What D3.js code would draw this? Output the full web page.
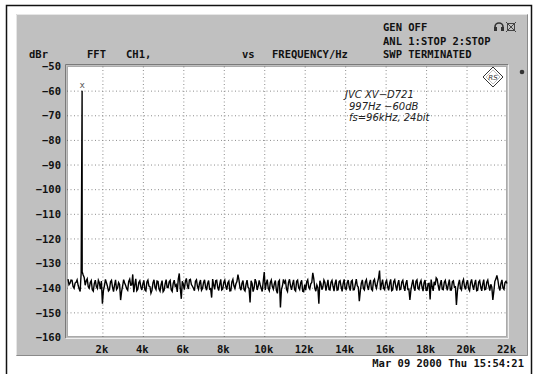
<!DOCTYPE html>
<html><head><meta charset="utf-8">
<script src="https://cdn.jsdelivr.net/npm/d3@7"></script>
<style>
html,body{margin:0;padding:0;background:#fff;}
svg{display:block;}
.mono{font-family:"DejaVu Sans Mono","Liberation Mono",monospace;font-weight:bold;font-size:10.5px;fill:#111;}
.note{font-family:"DejaVu Sans",sans-serif;font-style:italic;font-size:10px;fill:#222;}
</style></head><body>
<svg id="c" width="537" height="374"></svg>
<script>
// ---- data ----
const yTicks = [-50,-60,-70,-80,-90,-100,-110,-120,-130,-140,-150,-160];
const yTickLabels = ["−50","−60","−70","−80","−90","−100","−110","−120","−130","−140","−150","−160"];
const xTicks = [2000,4000,6000,8000,10000,12000,14000,16000,18000,20000,22000];
const xTickLabels = ["2k","4k","6k","8k","10k","12k","14k","16k","18k","20k","22k"];
// FFT display bins: levels at 300,400,...,22000 Hz
const noiseStartHz = 300, noiseStepHz = 100;
const noiseLevels = [
 -136.5,-138.2,-137.0,-140.2,-137.8,-139.0,-141.5,-133.5,
 -135.8,-137.2,-139.6,-137.9,-140.8,-138.3,-139.5,-137.0,-140.6,-146.5,
 -139.2,-138.0,-141.3,-137.6,-139.8,-138.9,-140.7,-137.9,-145.0,-139.3,
 -138.1,-140.4,-137.4,-139.0,-134.6,-138.8,-141.2,-137.9,-139.6,-138.4,
 -140.9,-137.7,-139.3,-142.2,-138.0,-139.8,-137.3,-140.5,-138.7,-141.6,
 -138.4,-139.9,-137.6,-140.8,-138.2,-139.4,-141.7,-134.2,-144.5,-138.6,
 -137.5,-139.1,-136.8,-138.7,-140.2,-137.4,-139.5,-138.1,-141.0,-137.9,
 -139.7,-138.3,-140.6,-144.0,-138.9,-137.2,-139.8,-138.5,-140.9,-137.8,
 -139.4,-138.0,-141.3,-137.6,-139.2,-138.4,-134.7,-139.9,-138.2,-140.7,
 -138.6,-139.8,-146.0,-138.3,-140.1,-137.7,-139.4,-138.8,-141.5,-133.6,
 -138.2,-140.3,-137.9,-139.5,-138.4,-141.1,-137.6,-148.0,-139.2,-138.0,
 -140.6,-137.8,-139.3,-138.5,-140.8,-137.4,-139.9,-138.1,-141.4,-138.7,
 -137.6,-139.8,-138.4,-134.0,-140.2,-138.9,-146.5,-138.3,-139.6,-137.9,
 -139.1,-140.7,-137.8,-139.4,-138.2,-141.0,-137.5,-139.6,-138.3,-140.4,
 -138.0,-139.7,-137.4,-140.9,-138.6,-139.2,-145.5,-138.1,-140.3,-137.6,
 -139.4,-138.2,-140.6,-137.3,-139.1,-137.8,-133.0,-138.5,-140.2,-137.9,
 -139.6,-138.1,-141.2,-137.5,-139.3,-138.4,-140.8,-137.7,-139.5,-138.2,
 -140.7,-145.0,-138.6,-139.8,-137.4,-140.3,-138.1,-139.7,-137.9,-141.0,
 -138.3,-144.8,-139.4,-137.6,-136.0,-139.2,-138.5,-140.6,-137.8,-139.3,
 -138.6,-140.9,-137.5,-139.8,-147.0,-138.4,-140.2,-137.6,-139.5,-138.1,
 -140.4,-137.9,-139.1,-138.3,-141.2,-137.7,-139.6,-138.5,-140.8,-137.8,
 -139.3,-138.6,-145.0,-137.4,-135.0,-139.7,-138.2,-140.1,-137.9,-138.3
];
// in-between bins: levels at 350,450,...,21950 Hz
const midStartHz = 350;
const noiseLevelsMid = [
 -138.8,-136.9,-139.5,-138.1,-136.8,-140.4,-134.0,
 -134.8,-139.0,-136.4,-140.2,-137.1,-141.4,-136.9,-140.3,-138.0,-137.3,
 -141.2,-136.6,-139.4,-140.8,-137.0,-141.6,-136.8,-140.1,-138.7,-141.5,
 -136.7,-139.1,-141.0,-136.5,-138.9,-141.8,-136.4,-140.6,-137.2,-140.9,
 -137.0,-141.3,-136.9,-139.6,-141.1,-136.8,-140.7,-137.5,-141.4,-137.1,
 -141.0,-136.7,-139.9,-137.0,-141.5,-136.9,-138.8,-136.5,-140.2,-137.4,
 -140.8,-136.2,-140.5,-136.6,-139.4,-141.2,-136.8,-140.6,-136.9,-140.3,
 -136.8,-141.0,-137.1,-140.4,-136.5,-140.7,-137.0,-141.1,-136.6,-140.5,
 -136.9,-140.8,-137.3,-141.2,-136.6,-140.3,-137.5,-136.8,-141.0,-137.1,
 -141.3,-136.9,-140.4,-137.2,-141.6,-136.5,-140.9,-137.0,-140.2,-137.4,
 -140.9,-136.7,-141.2,-136.9,-140.6,-137.1,-142.3,-137.0,-140.8,-136.6,
 -137.2,-141.5,-136.6,-140.9,-136.8,-141.3,-136.9,-140.7,-137.0,-141.6,
 -141.0,-136.8,-140.5,-137.9,-136.4,-141.4,-140.0,-137.2,-140.8,-136.9,
 -141.2,-136.8,-140.9,-137.0,-141.4,-136.7,-140.8,-137.1,-141.5,-136.6,
 -140.7,-136.9,-141.2,-137.0,-140.8,-136.5,-139.8,-141.3,-136.8,-140.9,
 -136.7,-140.9,-136.8,-141.1,-136.6,-140.2,-136.1,-141.0,-136.7,-140.8,
 -137.0,-141.1,-136.6,-140.9,-136.8,-141.2,-136.9,-140.6,-137.0,-141.3,
 -136.9,-140.6,-141.0,-136.7,-141.2,-136.8,-140.7,-137.1,-141.4,-136.9,
 -141.0,-138.2,-136.7,-141.3,-139.0,-136.6,-141.2,-136.9,-140.8,-137.0,
 -141.1,-136.7,-140.9,-137.2,-139.6,-141.3,-136.8,-140.9,-136.6,-140.7,
 -137.0,-141.2,-136.6,-140.9,-136.8,-141.0,-137.1,-141.3,-136.7,-140.6,
 -136.9,-141.2,-139.8,-141.4,-136.5,-136.9,-141.1,-136.8,-140.7,-137.4
];
const spikeFreqs = [997];
const spikeLevels = [-60];
const headerLeft = ["dBr","FFT","CH1,","vs","FREQUENCY/Hz"];
const statusLines = ["GEN OFF","ANL 1:STOP 2:STOP","SWP TERMINATED"];
const noteLines = ["JVC XV−D721","997Hz  −60dB","fs=96kHz, 24bit"];
const dateText = "Mar 09 2000 Thu 15:54:21";

// ---- layout ----
const svg = d3.select("#c");
const P = {l:67, t:66, r:507, b:337};
const x = d3.scaleLinear().domain([250,22000]).range([P.l,P.r]);
const y = d3.scaleLinear().domain([-50,-160]).range([P.t,P.b]);

svg.append("rect").attr("width",537).attr("height",374).attr("fill","#fff");
// outer frame
svg.append("rect").attr("x",6.5).attr("y",5.5).attr("width",525).attr("height",400)
  .attr("fill","none").attr("stroke","#111").attr("stroke-width",1.5);
// grey panel
svg.append("rect").attr("x",16).attr("y",14).attr("width",512).attr("height",342).attr("fill","#c0c0c0");
svg.append("path").attr("d","M16.5,355.5V14.5H527.5").attr("fill","none").attr("stroke","#e6e6e6");
svg.append("path").attr("d","M16.5,355.5H527.5V14.5").attr("fill","none").attr("stroke","#8a8a8a");
// plot area
svg.append("rect").attr("x",P.l).attr("y",P.t).attr("width",P.r-P.l).attr("height",P.b-P.t).attr("fill","#fff");
svg.append("path").attr("d",`M${P.l-1.5},${P.b+1.5}V${P.t-1.5}H${P.r+1.5}`).attr("fill","none").attr("stroke","#7a7a7a");
svg.append("path").attr("d",`M${P.l-1.5},${P.b+1.5}H${P.r+1.5}V${P.t-1.5}`).attr("fill","none").attr("stroke","#eeeeee");

// grid
const gx = svg.append("g").attr("transform",`translate(0,${P.b})`)
  .call(d3.axisBottom(x).tickValues(xTicks.slice(0,-1)).tickSize(-(P.b-P.t)).tickFormat(""));
gx.select(".domain").remove();
gx.selectAll("line").attr("stroke","#8c8c8c").attr("stroke-dasharray","1,2.5");
const gy = svg.append("g").attr("transform",`translate(${P.l},0)`)
  .call(d3.axisLeft(y).tickValues(yTicks.slice(1,-1)).tickSize(-(P.r-P.l)).tickFormat(""));
gy.select(".domain").remove();
gy.selectAll("line").attr("stroke","#8c8c8c").attr("stroke-dasharray","1,2.5");
// dotted plot border
svg.append("rect").attr("x",P.l+0.5).attr("y",P.t+0.5).attr("width",P.r-P.l-1).attr("height",P.b-P.t-1)
  .attr("fill","none").attr("stroke","#555").attr("stroke-dasharray","1,1");

// axes labels
const ax = svg.append("g").attr("transform",`translate(0,${P.b})`)
  .call(d3.axisBottom(x).tickValues(xTicks).tickSize(0).tickPadding(9)
  .tickFormat((d,i)=>xTickLabels[i]));
ax.select(".domain").remove();
ax.selectAll("text").attr("class","mono").attr("dx",-1);
const ay = svg.append("g").attr("transform",`translate(${P.l-6},0)`)
  .call(d3.axisLeft(y).tickValues(yTicks).tickSize(0).tickPadding(0)
  .tickFormat((d,i)=>yTickLabels[i]));
ay.select(".domain").remove();
ay.selectAll("text").attr("class","mono").attr("dy","0.35em");

// trace
const pts = noiseLevels.map((v,i)=>({f:noiseStartHz+i*noiseStepHz, v}))
  .concat(noiseLevelsMid.map((v,i)=>({f:midStartHz+i*noiseStepHz, v})));
spikeFreqs.forEach((f,i)=>pts.push({f, v:spikeLevels[i]}));
pts.sort((a,b)=>a.f-b.f);
svg.append("path").datum(pts)
  .attr("d",d3.line().x(d=>x(d.f)).y(d=>y(d.v)))
  .attr("fill","none").attr("stroke","#000").attr("stroke-width",1.4);
// marker
svg.append("text").attr("x",x(spikeFreqs[0])).attr("y",y(spikeLevels[0])-3)
  .attr("text-anchor","middle").attr("font-family","DejaVu Sans Mono").attr("font-size","9px").attr("fill","#555").text("x");

// header texts
const hx = [29,87,126,242,272];
headerLeft.forEach((t,i)=>svg.append("text").attr("class","mono").attr("x",hx[i]).attr("y",58).text(t));
statusLines.forEach((t,i)=>svg.append("text").attr("class","mono").attr("x",383).attr("y",31+i*13.5).text(t));
svg.append("text").attr("class","mono").attr("x",524).attr("y",367).attr("text-anchor","end").text(dateText);

// note
const nx = [345,349,349];
noteLines.forEach((t,i)=>svg.append("text").attr("class","note").attr("x",nx[i]).attr("y",98+i*11.5).text(t));

// R&S logo diamond
const lg = svg.append("g").attr("transform","translate(493,77)");
lg.append("path").attr("d","M0,-10L10,0L0,10L-10,0Z").attr("fill","#fff").attr("stroke","#333").attr("stroke-width",1);
lg.append("path").attr("d","M0,-7L7,0L0,7L-7,0Z").attr("fill","none").attr("stroke","#999").attr("stroke-width",0.6);
lg.append("text").attr("x",0).attr("y",3).attr("text-anchor","middle").attr("font-size","7px")
  .attr("font-family","DejaVu Sans").attr("font-style","italic").attr("fill","#333").text("RS");

// status icons
const ic = svg.append("g").attr("transform","translate(494,22)");
ic.append("path").attr("d","M1,8V5A4,4 0 0 1 9,5V8").attr("fill","none").attr("stroke","#333").attr("stroke-width",1.6);
ic.append("rect").attr("x",0).attr("y",5).attr("width",3).attr("height",4).attr("fill","#333");
ic.append("rect").attr("x",7).attr("y",5).attr("width",3).attr("height",4).attr("fill","#333");
const ic2 = svg.append("g").attr("transform","translate(506,22)");
ic2.append("rect").attr("x",1.5).attr("y",1.5).attr("width",7).attr("height",7).attr("fill","none").attr("stroke","#444");
ic2.append("path").attr("d","M0,0L10,10M10,0L0,10").attr("stroke","#444").attr("stroke-width",1);
// knob dot
svg.append("circle").attr("cx",522).attr("cy",72).attr("r",2.3).attr("fill","#333");
</script>
</body></html>
